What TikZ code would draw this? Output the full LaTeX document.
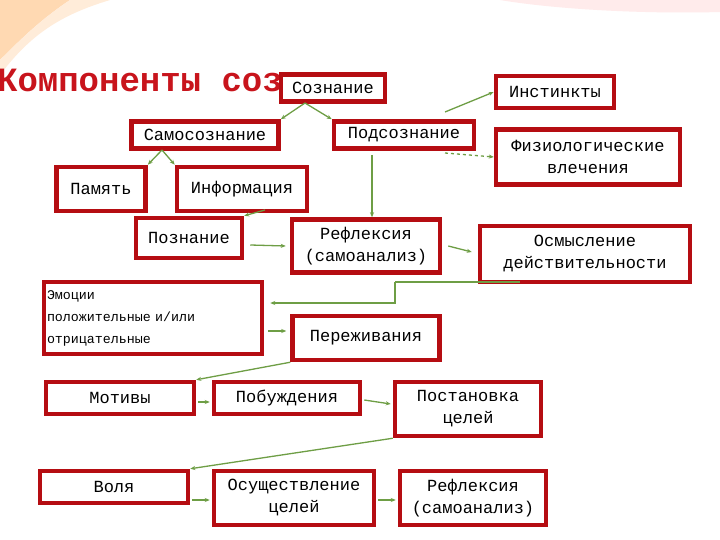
\documentclass[tikz,border=0pt]{standalone}
\usepackage{fontspec}
\setmainfont{Liberation Mono}[BoldFont={Liberation Mono Bold}]
\usetikzlibrary{arrows.meta,shadows,calc}
\definecolor{bx}{HTML}{B50D12}
\definecolor{ar}{HTML}{6E9E45}
\definecolor{ttl}{HTML}{C8141C}
\begin{document}
\begin{tikzpicture}[x=1pt,y=-1pt,
 bx/.style={draw=bx,line width=4.5pt,fill=white,inner sep=3pt,align=center,font=\fontsize{17}{22}\selectfont,
   drop shadow={shadow xshift=1.5pt,shadow yshift=-1.5pt,fill=black!45}},
 ar/.style={draw=ar,line width=1.3pt,-{Stealth[length=5pt,width=4pt]}}]
\useasboundingbox (0,0) rectangle (720,540);
\fill[white] (0,0) rectangle (720,540);
\fill[orange!30] (0,0) -- (70,0) .. controls (40,20) and (20,40) .. (0,60) -- cycle;
\fill[orange!15] (0,60) .. controls (20,40) and (40,20) .. (70,0) -- (110,0) .. controls (60,15) and (30,35) .. (0,75) -- cycle;
\fill[red!8] (500,0) -- (720,0) -- (720,12) .. controls (650,14) and (560,10) .. (500,0) -- cycle;
\node[anchor=east,text=ttl,inner sep=0pt,font=\fontsize{34}{34}\selectfont\bfseries] (title) at (385,80) {Компоненты сознания};
\node[bx,minimum width=104,minimum height=27] (soz) at (333,88) {Сознание};
\node[bx,minimum width=118,minimum height=32] (inst) at (555,92) {Инстинкты};
\node[bx,minimum width=147,minimum height=27] (sam) at (205,135) {Самосознание};
\node[bx,minimum width=140,minimum height=27] (pod) at (404,135) {Подсознание};
\node[bx,minimum width=184,minimum height=55] (fiz) at (588,157) {Физиологические\\влечения};
\node[bx,minimum width=89,minimum height=44] (pam) at (101,189) {Память};
\node[bx,minimum width=130,minimum height=44] (inf) at (242,189) {Информация};
\node[bx,minimum width=106,minimum height=40] (poz) at (189,238) {Познание};
\node[bx,minimum width=148,minimum height=53] (ref) at (366,246) {Рефлексия\\(самоанализ)};
\node[bx,minimum width=210,minimum height=56] (osm) at (585,254) {Осмысление\\действительности};
\node[bx,text width=212,minimum height=72,align=left,font=\fontsize{13.3}{22}\selectfont] (emo) at (153,318) {Эмоции\\положительные и/или\\отрицательные};
\node[bx,minimum width=147,minimum height=44] (per) at (366,338) {Переживания};
\node[bx,minimum width=148,minimum height=32] (mot) at (120,398) {Мотивы};
\node[bx,minimum width=146,minimum height=32] (pob) at (287,398) {Побуждения};
\node[bx,minimum width=146,minimum height=54] (pos) at (468,409) {Постановка\\целей};
\node[bx,minimum width=148,minimum height=32] (vol) at (114,487) {Воля};
\node[bx,minimum width=160,minimum height=54] (osu) at (294,498) {Осуществление\\целей};
\node[bx,minimum width=146,minimum height=54] (ref2) at (473,498) {Рефлексия\\(самоанализ)};
\coordinate (c1) at (305,103);
\coordinate (c2) at (445,112);
\coordinate (c3) at (445,153);
\coordinate (c4) at (162,150);
\coordinate (c5) at (265,210);
\coordinate (c6) at (395,282);
\coordinate (c7) at (395,303);
\coordinate (c8) at (372,155);
\coordinate (c9) at (520,282);
\draw[ar] (c1) -- (sam.north east);
\draw[ar] (c1) -- (pod.north west);
\draw[ar] (c2) -- (inst.west);
\draw[ar,dashed] (c3) -- (fiz.west);
\draw[ar] (c4) -- (pam.north east);
\draw[ar] (c4) -- (inf.north west);
\draw[ar] (c5) -- (poz.north east);
\draw[ar] (c8) -- (c8 |- ref.north);
\draw[ar] ($(poz.east)+(6,7)$) -- ($(ref.west)+(-4,0)$);
\draw[ar] ($(ref.east)+(6,0)$) -- ($(osm.west)+(-6,-2)$);
\draw[draw=ar,line width=1.3pt] (c9) -- (c6);
\draw[ar] (c6) -- (c7) -- ($(emo.east)+(6,-15)$);
\draw[ar] ($(emo.east)+(4,13)$) -- ($(per.west)+(-4,-7)$);
\draw[ar] (per.south west) -- (mot.north east);
\draw[ar] ($(mot.east)+(2,4)$) -- ($(pob.west)+(-2,4)$);
\draw[ar] ($(pob.east)+(2,2)$) -- ($(pos.west)+(-2,-5)$);
\draw[ar] (pos.south west) -- (vol.north east);
\draw[ar] ($(vol.east)+(2,13)$) -- ($(osu.west)+(-2,2)$);
\draw[ar] ($(osu.east)+(2,2)$) -- ($(ref2.west)+(-2,2)$);
\end{tikzpicture}
\end{document}
